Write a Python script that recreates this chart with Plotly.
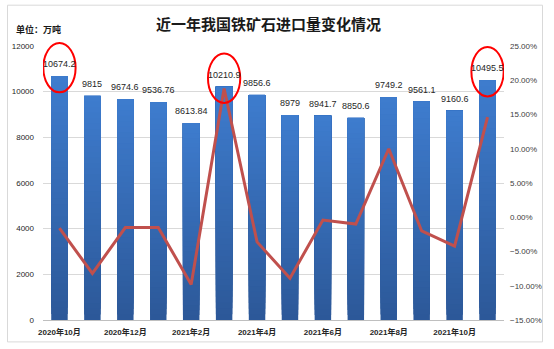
import plotly.graph_objects as go

# Monthly iron ore imports (10k tonnes) and month-on-month change (%)
months = ["2020年10月", "2020年11月", "2020年12月", "2021年1月", "2021年2月", "2021年3月",
          "2021年4月", "2021年5月", "2021年6月", "2021年7月", "2021年8月", "2021年9月",
          "2021年10月", "2021年11月"]
imports = [10674.2, 9815, 9674.6, 9536.76, 8613.84, 10210.9, 9856.6, 8979,
           8941.7, 8850.6, 9749.2, 9561.1, 9160.6, 10495.5]
change_pct = [-1.6, -8.2, -1.5, -1.5, -9.8, 18.8, -3.6, -8.9, -0.4, -1.0,
              10.0, -2.0, -4.2, 14.6]
highlighted = ["2020年10月", "2021年3月", "2021年11月"]

FONT = "Liberation Sans, Noto Sans CJK SC, sans-serif"
Y_MAX = 12000

fig = go.Figure()

# Bars with a vertical gradient: each layer starts a little higher and runs to
# the top of the bar, so later (lighter) layers cover the upper part.
bands = 40
dark = (44, 88, 152)
light = (62, 124, 206)
for k in range(bands):
    t = (k + 0.5) / bands
    c = tuple(round(dark[i] + (light[i] - dark[i]) * t) for i in range(3))
    fig.add_trace(go.Bar(
        x=months,
        y=[v * (bands - k) / bands for v in imports],
        base=[v * k / bands for v in imports],
        marker=dict(color="rgb(%d,%d,%d)" % c, line=dict(width=0)),
        width=0.5,
        showlegend=False,
        hoverinfo="skip",
    ))

# Month-on-month change line on the secondary axis
fig.add_trace(go.Scatter(
    x=months, y=change_pct, yaxis="y2", mode="lines",
    line=dict(color="#c0504d", width=3),
    showlegend=False,
))

# Value labels above each bar
for m, v in zip(months, imports):
    fig.add_annotation(
        x=m, y=v, text=f"{v:g}", showarrow=False, yshift=12,
        font=dict(family=FONT, size=9, color="#262626"),
    )

# Red ellipses around the highlighted labels
for m in highlighted:
    i = months.index(m)
    cy = imports[i] / Y_MAX + 0.0315
    fig.add_shape(
        type="circle", xref="x", yref="paper",
        x0=i - 0.49, x1=i + 0.49, y0=cy - 0.09, y1=cy + 0.09,
        line=dict(color="#ff0000", width=2),
    )

# Outer chart frame
fig.add_shape(
    type="rect", xref="paper", yref="paper",
    x0=-0.077, x1=1.0835, y0=-0.08, y1=1.149,
    line=dict(color="#d9d9d9", width=1), layer="below",
)

fig.update_layout(
    width=554, height=349,
    margin=dict(l=42, r=45, t=46, b=27),
    paper_bgcolor="white", plot_bgcolor="white",
    barmode="overlay",
    title=dict(
        text="近一年我国铁矿石进口量变化情况",
        x=268.5 / 554, xanchor="center", y=1 - 25 / 349, yanchor="middle",
        font=dict(family="Noto Sans CJK SC", size=15, color="#1a1a1a", weight="bold"),
    ),
    xaxis=dict(
        type="category", categoryorder="array", categoryarray=months,
        tickmode="array", tickvals=months[::2], ticktext=months[::2],
        tickfont=dict(family=FONT, size=8, color="#262626", weight="bold"),
        showline=True, linecolor="#bfbfbf", linewidth=1,
        ticks="", showgrid=False, range=[-0.5, 13.5], ticklabelstandoff=4,
    ),
    yaxis=dict(
        range=[0, Y_MAX], dtick=2000, tickformat="d",
        tickfont=dict(family=FONT, size=8, color="#262626"),
        showgrid=True, gridcolor="#d9d9d9", gridwidth=1,
        zeroline=False, ticks="", ticklabelstandoff=8,
    ),
    yaxis2=dict(
        overlaying="y", side="right",
        range=[-15, 25], dtick=5, tickformat=".2f", ticksuffix="%",
        tickfont=dict(family=FONT, size=8, color="#404040"),
        showgrid=False, zeroline=False, ticks="", ticklabelstandoff=5,
    ),
)

fig.add_annotation(
    xref="paper", yref="paper",
    x=(13 - 42) / 467, y=(322 - 29) / 276, xanchor="left", yanchor="middle",
    text="单位：万吨", showarrow=False,
    font=dict(family="Noto Sans CJK SC", size=9, color="#1a1a1a", weight="bold"),
)

fig.write_html("out.html")
